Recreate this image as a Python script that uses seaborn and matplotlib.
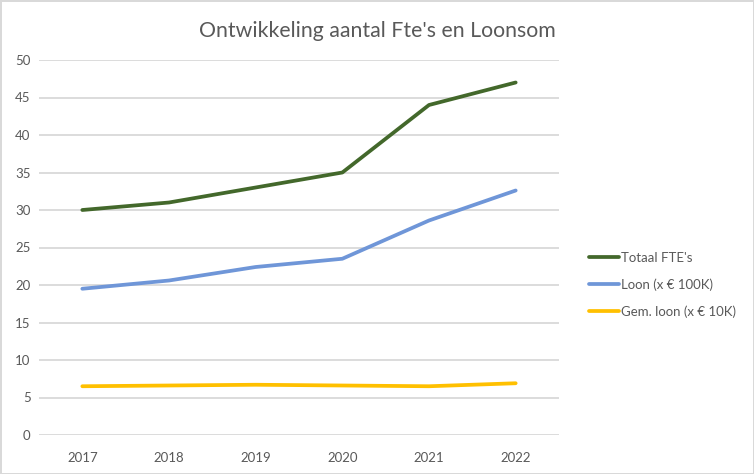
import pandas as pd
import seaborn as sns
import matplotlib.pyplot as plt

# ----------------------------- DATA --------------------------------------------
years = ["2017", "2018", "2019", "2020", "2021", "2022"]
totaal_fte = [30, 31, 33, 35, 44, 47]
loon_100k = [19.5, 20.6, 22.4, 23.5, 28.6, 32.6]
gem_loon_10k = [6.5, 6.6, 6.7, 6.6, 6.5, 6.9]

series_names = ["Totaal FTE's", "Loon (x € 100K)", "Gem. loon (x € 10K)"]
series_values = [totaal_fte, loon_100k, gem_loon_10k]
colors = ["#43682b", "#6f96d8", "#ffc000"]

rows = []
for name, vals in zip(series_names, series_values):
    for i, v in enumerate(vals):
        rows.append({"pos": i, "serie": name, "waarde": v})
df = pd.DataFrame(rows)

# ----------------------------- PLOT --------------------------------------------
sns.set_style("white")
plt.rcParams["font.family"] = ["Lato", "DejaVu Sans"]

fig = plt.figure(figsize=(7.54, 4.74), dpi=100)
fig.patch.set_edgecolor("#d9d9d9")
fig.patch.set_linewidth(2)
ax = fig.add_axes([39 / 754, 39 / 474, 520 / 754, 375 / 474])

sns.lineplot(
    data=df, x="pos", y="waarde", hue="serie", hue_order=series_names,
    palette=colors, linewidth=2.7, ax=ax, legend=True,
)

ax.set_xlim(-0.5, 5.5)
ax.set_ylim(0, 50)
ax.set_yticks(range(0, 51, 5))
ax.set_xticks(range(len(years)))
ax.set_xticklabels(years)
ax.set_xlabel("")
ax.set_ylabel("")
ax.grid(axis="y", color="#d9d9d9", linewidth=1.3)
ax.set_axisbelow(True)
for s in ax.spines.values():
    s.set_visible(False)
ax.tick_params(axis="both", length=0, labelsize=9.5, labelcolor="#595959")
ax.tick_params(axis="x", pad=12)
ax.tick_params(axis="y", pad=6)

fig.text(0.50, 0.935, "Ontwikkeling aantal Fte's en Loonsom", ha="center",
         va="center", fontsize=15.3, color="#595959")

leg = ax.legend(loc="center left", bbox_to_anchor=(1.035, 0.40), frameon=False,
                fontsize=9.5, handlelength=2.3, handletextpad=0.1,
                labelspacing=1.1)
for t in leg.get_texts():
    t.set_color("#595959")

fig.savefig("out.png", dpi=100)
